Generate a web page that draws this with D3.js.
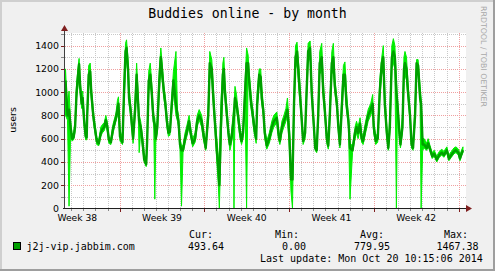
<!DOCTYPE html>
<html>
<head>
<meta charset="utf-8">
<script src="https://cdn.jsdelivr.net/npm/d3@7"></script>
<style>
body { margin: 0; background: #fff; }
text { font-family: "DejaVu Sans", sans-serif; }
.mono { font-family: "DejaVu Sans Mono", monospace; }
</style>
</head>
<body>
<script>
//Width and height
var width = 495;
var height = 271;

//Time window: hours after start, start time of the graph
var startTime = new Date(2014, 8, 17, 11, 40);
var spanHours = 793;

//Samples: hours after start, average, max and min of each interval
var hours = [1,3,5,8,11,14,17,20,23,27,28,30,33,35,38,41,43,44,47,50,52,54,56,59,63,67,71,74,78,81,84,87,91,95,98,101,104,106,109,114,117,120,122,125,127,130,133,135,139,142,145,147,150,153,157,161,163,166,169,172,174,176,178,180,183,187,190,194,196,199,202,205,208,211,215,220,223,225,228,231,234,238,241,246,249,253,258,262,266,271,274,279,284,287,291,294,297,301,304,306,309,313,315,317,320,324,327,330,334,335,337,340,343,347,350,353,357,360,363,365,369,371,375,379,381,385,388,390,393,396,400,405,410,414,420,423,426,430,434,438,441,445,448,451,454,457,460,464,468,472,476,479,482,486,489,492,496,499,502,505,509,512,515,519,522,525,529,532,535,539,542,545,548,552,555,558,562,565,570,575,578,581,585,588,591,596,601,606,610,612,616,620,624,628,631,634,638,641,644,648,651,654,657,659,663,665,669,672,674,677,680,684,687,690,694,697,700,704,706,709,712,717,720,723,728,732,737,742,747,751,757,761,766,771,775,780,783,786,789];
var avgUsers = [1100,950,800,850,700,600,610,700,1000,1200,1240,1050,900,950,750,620,610,800,1150,1180,1000,900,800,700,580,560,650,680,700,760,700,590,570,680,730,780,850,900,620,570,1000,1350,1380,1200,950,850,700,600,850,1150,900,750,700,600,420,380,600,1100,1150,1000,850,750,720,600,700,1100,1300,1100,1000,900,750,650,660,850,1100,900,800,750,550,500,500,600,650,750,650,560,600,750,800,750,650,520,800,1250,1200,950,750,500,350,200,700,1150,1200,1000,850,650,550,600,750,800,950,900,800,650,580,650,1000,1250,1250,1100,900,850,700,600,900,1150,1130,950,850,650,540,600,700,750,780,650,580,700,750,800,850,600,250,250,900,1300,1350,1100,850,580,650,1000,1350,1380,1000,800,520,500,800,1250,1300,1000,850,600,540,800,1250,1300,1050,900,700,550,800,1150,1150,900,750,520,500,650,700,650,730,600,580,700,800,850,900,700,580,600,1000,1250,1300,900,650,520,700,1300,1350,1300,1000,900,650,550,700,1200,1250,1200,1000,800,550,520,800,1250,1230,950,900,550,550,520,560,520,450,470,420,460,480,460,500,430,460,490,500,480,430,470,500];
var maxUsers = [1200,1020,880,1010,760,640,650,760,1080,1260,1290,1120,960,1010,800,650,640,860,1230,1250,1060,960,850,740,610,590,700,720,740,800,740,620,600,720,770,820,930,960,680,600,1100,1420,1450,1280,1050,900,760,640,950,1250,1000,800,750,650,480,420,680,1180,1250,1080,920,800,780,640,760,1200,1380,1180,1060,960,800,690,700,920,1180,1350,850,800,600,540,540,650,700,800,700,600,650,800,850,800,700,560,900,1350,1280,1050,820,600,450,350,900,1250,1300,1100,920,700,580,650,850,880,1050,980,850,700,620,700,1100,1380,1320,1180,980,900,760,650,1000,1200,1200,1050,900,700,580,650,750,800,830,700,620,750,800,860,950,700,400,350,1000,1400,1430,1200,900,620,700,1100,1420,1440,1100,850,560,540,900,1350,1420,1100,900,650,580,900,1350,1420,1120,950,750,590,900,1230,1260,1000,800,560,540,700,750,700,780,650,620,750,850,900,980,760,620,650,1100,1300,1400,1000,700,560,800,1400,1460,1400,1100,950,700,600,800,1300,1350,1300,1080,850,600,560,900,1280,1280,1050,950,600,600,560,600,550,480,500,450,490,510,490,530,460,490,520,530,510,460,500,530];
var minUsers = [800,780,760,20,640,580,590,660,950,1100,1180,1000,860,900,700,590,590,760,1050,1120,950,850,760,660,550,540,620,650,670,720,660,560,550,640,700,750,800,820,580,550,900,1200,1300,1100,900,800,650,560,800,1050,850,480,650,550,400,360,550,1000,1080,950,800,700,80,570,650,1000,1200,1050,950,850,700,620,630,800,1000,800,750,700,500,20,480,560,610,700,620,530,570,700,760,700,600,500,750,1150,1100,900,700,400,200,0,500,1050,1100,950,800,600,500,560,700,0,900,850,750,600,550,600,900,0,1150,1050,850,800,650,560,850,1050,1050,900,800,600,510,560,650,700,740,600,550,650,700,750,800,500,150,0,800,1200,1250,1000,800,550,600,950,1250,1300,950,750,500,480,750,1150,1200,950,800,560,510,750,1150,1200,1000,850,650,520,750,1050,1050,850,700,80,480,600,650,600,680,570,550,650,750,800,850,650,550,570,950,1150,1200,850,600,500,650,1200,1250,1200,0,850,600,520,650,1100,1150,1100,950,750,520,500,750,1150,1150,900,0,500,520,500,530,500,430,450,400,440,460,440,480,410,440,470,480,460,410,450,480];

//Y axis values and legend numbers
var yMax = 1500;
var yLabels = [0,200,400,600,800,1000,1200,1400];
var legendName = "j2j-vip.jabbim.com";
var statNames = ["Cur:", "Min:", "Avg:", "Max:"];
var statValues = ["493.64", "0.00", "779.95", "1467.38"];
var lastUpdate = "Last update: Mon Oct 20 10:15:06 2014";

var svg = d3.select("body")
	.append("svg")
	.attr("width", width)
	.attr("height", height);

//Background and 3d frame
svg.append("rect").attr("width", width).attr("height", height).attr("fill", "#f0f0f0");
svg.append("path").attr("d", "M0,271V0H495").attr("fill", "none").attr("stroke", "#cfcfcf").attr("stroke-width", 4);
svg.append("path").attr("d", "M495,0V271H0").attr("fill", "none").attr("stroke", "#9e9e9e").attr("stroke-width", 4);

var plotLeft = 65, plotRight = 465, plotTop = 34, plotBottom = 208.5;

var endTime = d3.timeHour.offset(startTime, spanHours);
var x = d3.scaleTime()
	.domain([startTime, endTime])
	.range([plotLeft, plotRight]);
var y = d3.scaleLinear()
	.domain([0, yMax])
	.range([plotBottom, plotTop]);

function toDate(h) { return new Date(startTime.getTime() + h * 3600000); }

//Canvas
svg.append("rect")
	.attr("x", plotLeft).attr("y", 33)
	.attr("width", plotRight - plotLeft + 1).attr("height", 175)
	.attr("fill", "#ffffff");

//Grid
var grid = svg.append("g").attr("shape-rendering", "crispEdges");
var days = d3.timeDay.range(d3.timeDay.ceil(startTime), endTime);
days.forEach(function(d) {
	var major = d.getDay() == 1;
	var px = Math.round(x(d)) + 0.5;
	grid.append("line")
		.attr("x1", px).attr("x2", px).attr("y1", 33).attr("y2", 208)
		.attr("stroke", major ? "#f0a0a0" : "#c8c8c8")
		.attr("stroke-dasharray", "1,1");
	grid.append("line")
		.attr("x1", px).attr("x2", px).attr("y1", 209).attr("y2", major ? 212 : 211)
		.attr("stroke", major ? "#7f1f1f" : "#888");
});
d3.range(100, yMax + 1, 100).forEach(function(v) {
	var py = Math.round(y(v)) + 0.5;
	grid.append("line")
		.attr("x1", plotLeft).attr("x2", plotRight + 1).attr("y1", py).attr("y2", py)
		.attr("stroke", v % 200 == 0 ? "#f0a0a0" : "#c8c8c8")
		.attr("stroke-dasharray", "1,1");
	grid.append("line")
		.attr("x1", 61).attr("x2", 64).attr("y1", py).attr("y2", py)
		.attr("stroke", v % 200 == 0 ? "#7f1f1f" : "#888");
});

//Data
var samples = hours.map(function(h, i) {
	return { t: toDate(h), avg: avgUsers[i], hi: maxUsers[i], lo: minUsers[i] };
});

var band = d3.area()
	.x(function(d) { return x(d.t); })
	.y0(function(d) { return y(d.lo); })
	.y1(function(d) { return y(d.hi); });
svg.append("path")
	.datum(samples)
	.attr("d", band)
	.attr("fill", "#00ee00")
	.attr("stroke", "#00ee00")
	.attr("stroke-width", 1);

var line = d3.line()
	.x(function(d) { return x(d.t); })
	.y(function(d) { return y(d.avg); });
svg.append("path")
	.datum(samples)
	.attr("d", line)
	.attr("fill", "none")
	.attr("stroke", "#00a000")
	.attr("stroke-width", 2.4)
	.attr("stroke-linejoin", "round");

//Axes
svg.append("line")
	.attr("x1", 64.5).attr("x2", 64.5).attr("y1", 209).attr("y2", 30)
	.attr("stroke", "#404040");
svg.append("line")
	.attr("x1", 63).attr("x2", 467).attr("y1", 208.5).attr("y2", 208.5)
	.attr("stroke", "#1f1f1f");
svg.append("path").attr("d", "M61,31L64.5,25L68,31Z").attr("fill", "#7f1f1f");
svg.append("path").attr("d", "M466,205L472,208.5L466,212Z").attr("fill", "#7f1f1f");

//Y labels
svg.selectAll(".ylab")
	.data(yLabels)
	.enter()
	.append("text")
	.attr("class", "ylab")
	.attr("x", 59)
	.attr("y", function(d) { return y(d) + 3.5; })
	.attr("text-anchor", "end")
	.attr("font-size", 9.4)
	.text(function(d) { return d; });

//Week labels in the middle of each week
var weeks = d3.timeMonday.range(d3.timeMonday.floor(startTime), endTime)
	.filter(function(d) { return d3.timeHour.offset(d, 84) < endTime; });
svg.selectAll(".xlab")
	.data(weeks)
	.enter()
	.append("text")
	.attr("class", "xlab")
	.attr("x", function(d) { return x(d3.timeHour.offset(d, 84)); })
	.attr("y", 220.5)
	.attr("text-anchor", "middle")
	.attr("font-size", 9.2)
	.text(function(d) { return "Week " + (+d3.timeFormat("%V")(d)); });

//Title and side texts
svg.append("text")
	.attr("class", "mono")
	.attr("x", 247.5).attr("y", 18)
	.attr("text-anchor", "middle")
	.attr("font-size", 13.2)
	.text("Buddies online - by month");
svg.append("text")
	.attr("transform", "translate(15.5,120) rotate(-90)")
	.attr("text-anchor", "middle")
	.attr("font-size", 9.5)
	.text("users");
svg.append("text")
	.attr("transform", "translate(481,6) rotate(90)")
	.attr("font-size", 7.8)
	.attr("fill", "#a8a8a8")
	.attr("textLength", 101)
	.text("RRDTOOL / TOBI OETIKER");

//Legend
svg.append("rect")
	.attr("x", 13.5).attr("y", 242.5).attr("width", 7).attr("height", 7)
	.attr("fill", "#00a000").attr("stroke", "#000");
svg.append("text").attr("class", "mono")
	.attr("x", 26.5).attr("y", 249.5).attr("font-size", 10)
	.text(legendName);
var statX = [189, 275, 360, 444];
var valX = [188, 282, 354, 436.5];
statNames.forEach(function(s, i) {
	svg.append("text").attr("class", "mono")
		.attr("x", statX[i]).attr("y", 237.5).attr("font-size", 10)
		.text(s);
	svg.append("text").attr("class", "mono")
		.attr("x", valX[i]).attr("y", 249.5).attr("font-size", 10)
		.text(statValues[i]);
});
svg.append("text").attr("class", "mono")
	.attr("x", 260).attr("y", 261.5).attr("font-size", 10)
	.text(lastUpdate);
</script>
</body>
</html>
